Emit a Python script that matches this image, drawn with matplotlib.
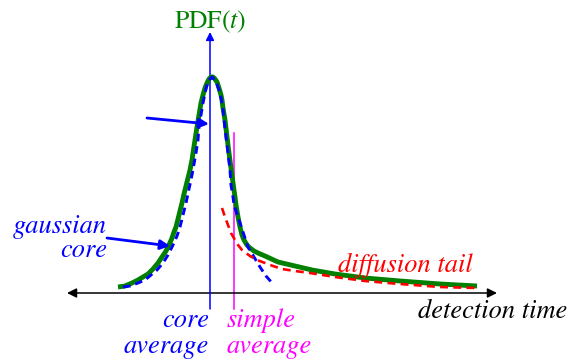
import matplotlib
matplotlib.use("Agg")
import matplotlib.pyplot as plt

plt.rcParams['font.family'] = ['STIXGeneral', 'DejaVu Serif']
plt.rcParams['mathtext.fontset'] = 'stix'

# full PDF (core + tail)
total_t = [-92, -85, -78, -72, -67, -62, -57, -52, -48, -44, -41, -38, -36, -34, -32,
           -30, -28, -26, -24, -22, -20, -18, -17, -15, -13, -11, -9, -7, -5, -3,
           -1, 1, 3, 5, 7, 9, 11, 12, 13, 15, 17, 19, 21, 23, 25,
           26, 28, 30, 32, 34, 37, 40, 44, 48, 55, 68, 85, 102, 125, 155, 190, 230, 267]
total_pdf = [6, 7, 10, 13, 16, 19, 24, 30, 36, 42, 48, 55, 61, 66, 74,
             82, 90, 99, 107, 115, 123, 133, 140, 153, 166, 178, 190, 198, 205, 210,
             214, 216, 216, 214, 211, 205, 198, 193, 185, 173, 156, 140, 125, 110, 96,
             88, 76, 66, 58, 53, 48, 45, 42, 40, 37, 31, 27, 23, 19, 15, 12, 9, 7]

# gaussian core
core_t = [-87, -80, -72, -65, -59, -53, -47, -42, -37, -33, -30, -27, -24, -21, -18,
          -16, -14, -12, -11, -9, -7, -5, -3, -1, 2, 5, 7, 9, 11, 13,
          14, 16, 18, 20, 21, 23, 24, 27, 30, 34, 38, 44, 50, 56, 63]
core_pdf = [6, 7, 10, 13, 18, 23, 30, 38, 48, 57, 66, 78, 90, 104, 118,
            129, 140, 153, 166, 178, 190, 200, 208, 213, 216, 213, 209, 203, 195, 185,
            173, 156, 140, 123, 108, 96, 88, 79, 70, 58, 46, 36, 26, 17, 9]

# diffusion tail
tail_t = [12, 15, 18, 21, 25, 28, 32, 36, 40, 47, 55, 63, 72, 85, 100, 125, 155, 190, 230, 267]
tail_pdf = [85, 76, 68, 60, 53, 48, 43, 40, 37, 33, 30, 27, 24, 22, 20, 16, 12, 9, 6, 5]

core_avg = 0
simple_avg = 24

fig = plt.figure(figsize=(5.7, 3.64), dpi=100)
ax = fig.add_axes([0, 0, 1, 1])
ax.set_xlim(-210, 360)
ax.set_ylim(-71, 293)
ax.axis('off')

# axes of the sketch
ax.annotate('', xy=(287, 0), xytext=(-143, 0),
            arrowprops=dict(arrowstyle='<|-|>', color='black', lw=1.1,
                            mutation_scale=14, shrinkA=0, shrinkB=0))
ax.annotate('', xy=(core_avg, 261), xytext=(core_avg, -16),
            arrowprops=dict(arrowstyle='-|>', color='blue', lw=1.1,
                            mutation_scale=12, shrinkA=0, shrinkB=0))
ax.plot([simple_avg, simple_avg], [-16, 160], color='magenta', lw=1.1)

# curves
ax.plot(total_t, total_pdf, color='green', lw=3.5, solid_capstyle='butt',
        solid_joinstyle='round', zorder=3)
ax.plot(core_t, core_pdf, color='blue', lw=2.1, dashes=(2.6, 1.7), zorder=4)
ax.plot(tail_t, tail_pdf, color='red', lw=1.9, dashes=(3, 2), zorder=4)

# pointers
ax.annotate('', xy=(-1, 169), xytext=(-63, 175),
            arrowprops=dict(arrowstyle='-|>', color='blue', lw=2,
                            mutation_scale=14, shrinkA=0, shrinkB=0))
ax.annotate('', xy=(-40, 47), xytext=(-103, 55),
            arrowprops=dict(arrowstyle='-|>', color='blue', lw=2,
                            mutation_scale=14, shrinkA=0, shrinkB=0))

fs = 19
ax.text(0, 265, r'PDF$(t)$', color='green', fontsize=18.5, ha='center', va='baseline')
ax.text(-103, 60, 'gaussian', color='blue', fontsize=fs, style='italic', ha='right', va='baseline')
ax.text(-103, 36, 'core', color='blue', fontsize=fs, style='italic', ha='right', va='baseline')
ax.text(128, 21, 'diffusion tail', color='red', fontsize=fs, style='italic', ha='left', va='baseline')
ax.text(357, -25, 'detection time', color='black', fontsize=fs, style='italic', ha='right', va='baseline')
ax.text(-1, -34, 'core', color='blue', fontsize=fs, style='italic', ha='right', va='baseline')
ax.text(-1, -60, 'average', color='blue', fontsize=fs, style='italic', ha='right', va='baseline')
ax.text(17, -34, 'simple', color='magenta', fontsize=fs, style='italic', ha='left', va='baseline')
ax.text(17, -60, 'average', color='magenta', fontsize=fs, style='italic', ha='left', va='baseline')

fig.savefig('out.png', dpi=100)
